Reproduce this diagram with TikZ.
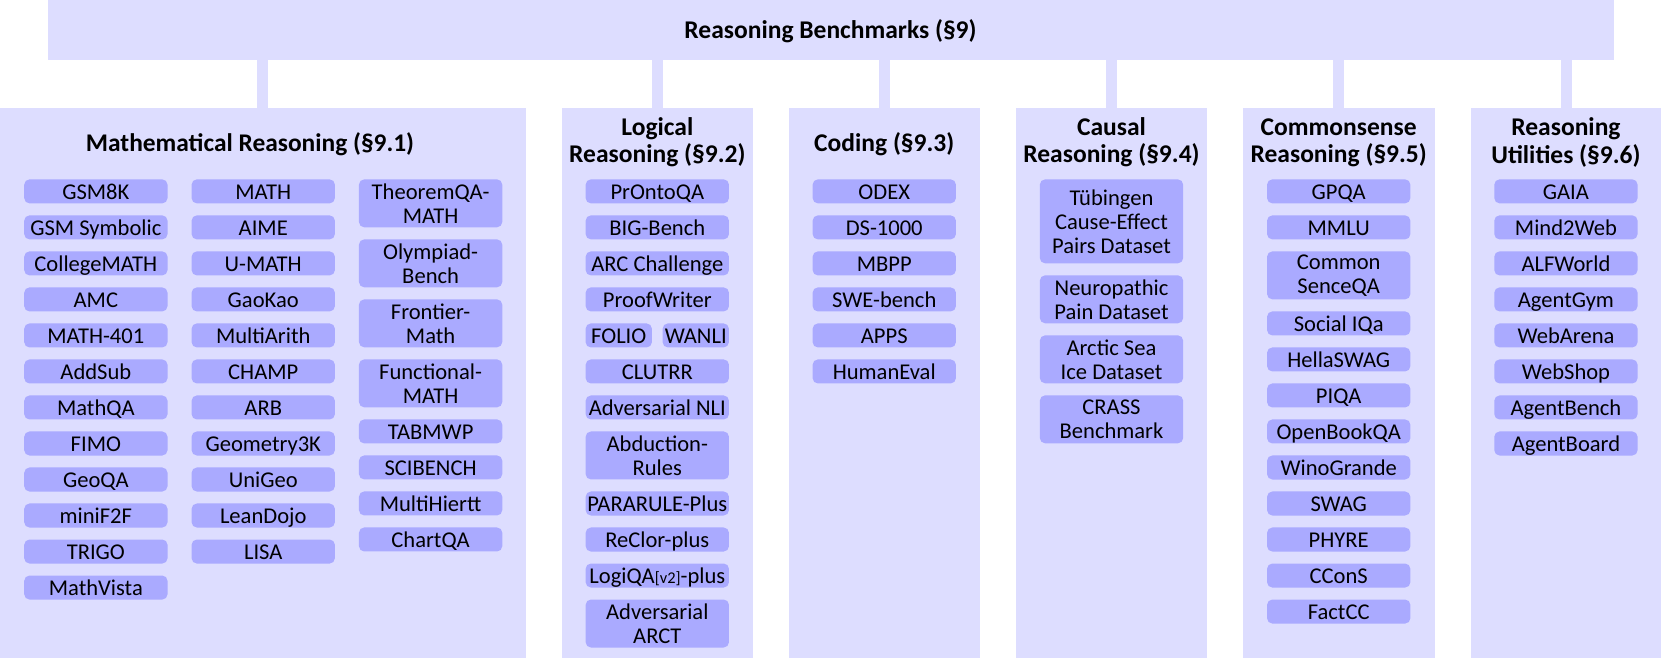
\documentclass[tikz,border=0pt]{standalone}
\usepackage{fontspec}
\setmainfont{Carlito}
\definecolor{bgcol}{RGB}{221,221,255}
\definecolor{itcol}{RGB}{170,170,255}
\newcommand\bone[4]{\node[itemone] (#1) at ({#2},{#3+11.35}) {#4};}
\newcommand\bmul[5]{\node[itemmul,minimum height=#4pt] (#1) at ({#2},{#3+#4/2}) {#5};}
\begin{document}
\begin{tikzpicture}[x=1pt,y=-1pt,
  colbox/.style={fill=bgcol,draw=none,inner sep=0pt,anchor=north west,minimum height=519pt},
  coltitle/.style={font=\bfseries\fontsize{24.1}{25.5}\selectfont,align=center,inner sep=0pt},
  stem/.style={draw=bgcol,line width=10.5pt},
  itembase/.style={fill=itcol,draw=none,rounded corners=5pt,inner sep=0pt,minimum width=135.3pt,
    font=\fontsize{21.3}{22.65}\selectfont,align=center},
  itemone/.style={itembase,minimum height=22.7pt,text height=17pt,text depth=2pt},
  itemmul/.style={itembase},
  itemhalf/.style={itemone,minimum width=62.6pt}
]
\useasboundingbox (0,0) rectangle (1568,621);
% top bar
\node[fill=bgcol,inner sep=0pt,minimum width=1478pt,minimum height=56.6pt,anchor=north west] (top) at (45,0) {};
\node[font=\bfseries\fontsize{24.1}{25.5}\selectfont,inner sep=0pt] (toptitle) at (784,29) {Reasoning Benchmarks (§9)};
% columns
\node[colbox,minimum width=496pt] (math) at (0,102) {};
\node[colbox,minimum width=181pt] (logic) at (530,102) {};
\node[colbox,minimum width=180.5pt] (code) at (744.5,102) {};
\node[colbox,minimum width=180.5pt] (causal) at (959,102) {};
\node[colbox,minimum width=180.5pt] (common) at (1173.5,102) {};
\node[colbox,minimum width=181pt] (util) at (1388,102) {};
% stems
\foreach \c in {math,logic,code,causal,common,util}
  \draw[stem] (top.south -| \c.north) -- (\c.north);
% titles
\node[coltitle,font=\bfseries\fontsize{24}{25.5}\selectfont] (tmath) at (236,136.5) {Mathematical Reasoning (§9.1)};
\node[coltitle] (tlogic) at (620.5,134.5) {Logical\\Reasoning (§9.2)};
\node[coltitle] (tcode) at (834.75,136) {Coding (§9.3)};
\node[coltitle] (tcausal) at (1049.25,134.5) {Causal\\Reasoning (§9.4)};
\node[coltitle] (tcommon) at (1263.75,134.5) {Commonsense\\Reasoning (§9.5)};
\node[coltitle] (tutil) at (1478.25,134.5) {Reasoning\\Utilities (§9.6)};
% math col 1
\bone{m1a}{90.5}{169.3}{GSM8K}
\bone{m1b}{90.5}{203.3}{GSM Symbolic}
\bone{m1c}{90.5}{237.3}{CollegeMATH}
\bone{m1d}{90.5}{271.3}{AMC}
\bone{m1e}{90.5}{305.3}{MATH-401}
\bone{m1f}{90.5}{339.3}{AddSub}
\bone{m1g}{90.5}{373.3}{MathQA}
\bone{m1h}{90.5}{407.3}{FIMO}
\bone{m1i}{90.5}{441.3}{GeoQA}
\bone{m1j}{90.5}{475.3}{miniF2F}
\bone{m1k}{90.5}{509.3}{TRIGO}
\bone{m1l}{90.5}{543.3}{MathVista}
% math col 2
\bone{m2a}{248.5}{169.3}{MATH}
\bone{m2b}{248.5}{203.3}{AIME}
\bone{m2c}{248.5}{237.3}{U-MATH}
\bone{m2d}{248.5}{271.3}{GaoKao}
\bone{m2e}{248.5}{305.3}{MultiArith}
\bone{m2f}{248.5}{339.3}{CHAMP}
\bone{m2g}{248.5}{373.3}{ARB}
\bone{m2h}{248.5}{407.3}{Geometry3K}
\bone{m2i}{248.5}{441.3}{UniGeo}
\bone{m2j}{248.5}{475.3}{LeanDojo}
\bone{m2k}{248.5}{509.3}{LISA}
% math col 3
\bmul{m3a}{406.5}{169.3}{45.3}{TheoremQA-\\MATH}
\bmul{m3b}{406.5}{225.95}{45.3}{Olympiad-\\Bench}
\bmul{m3c}{406.5}{282.6}{45.3}{Frontier-\\Math}
\bmul{m3d}{406.5}{339.25}{45.3}{Functional-\\MATH}
\bone{m3e}{406.5}{395.9}{TABMWP}
\bone{m3f}{406.5}{429.9}{SCIBENCH}
\bone{m3g}{406.5}{463.9}{MultiHiertt}
\bone{m3h}{406.5}{497.9}{ChartQA}
% logical
\bone{l1}{620.5}{169.3}{PrOntoQA}
\bone{l2}{620.5}{203.3}{BIG-Bench}
\bone{l3}{620.5}{237.3}{ARC Challenge}
\bone{l4}{620.5}{271.3}{ProofWriter}
\node[itemhalf] (l5a) at (584.1,{305.3+11.35}) {FOLIO};
\node[itemhalf] (l5b) at (656.8,{305.3+11.35}) {WANLI};
\bone{l6}{620.5}{339.3}{CLUTRR}
\bone{l7}{620.5}{373.3}{Adversarial NLI}
\bmul{l8}{620.5}{407.3}{45.3}{Abduction-\\Rules}
\bone{l9}{620.5}{463.95}{PARARULE-Plus}
\bone{l10}{620.5}{497.95}{ReClor-plus}
\bone{l11}{620.5}{531.95}{LogiQA{\fontsize{15.5}{15.5}\selectfont[v2]}-plus}
\bmul{l12}{620.5}{565.95}{45.3}{Adversarial\\ARCT}
% coding
\bone{c1}{834.75}{169.3}{ODEX}
\bone{c2}{834.75}{203.3}{DS-1000}
\bone{c3}{834.75}{237.3}{MBPP}
\bone{c4}{834.75}{271.3}{SWE-bench}
\bone{c5}{834.75}{305.3}{APPS}
\bone{c6}{834.75}{339.3}{HumanEval}
% causal
\bmul{k1}{1049.25}{169.3}{79.3}{Tübingen\\Cause-Effect\\Pairs Dataset}
\bmul{k2}{1049.25}{259.9}{45.3}{Neuropathic\\Pain Dataset}
\bmul{k3}{1049.25}{316.55}{45.3}{Arctic Sea\\Ice Dataset}
\bmul{k4}{1049.25}{373.2}{45.3}{CRASS\\Benchmark}
% commonsense
\bone{s1}{1263.75}{169.3}{GPQA}
\bone{s2}{1263.75}{203.3}{MMLU}
\bmul{s3}{1263.75}{237.3}{45.3}{Common\\SenceQA}
\bone{s4}{1263.75}{293.95}{Social IQa}
\bone{s5}{1263.75}{327.95}{HellaSWAG}
\bone{s6}{1263.75}{361.95}{PIQA}
\bone{s7}{1263.75}{395.95}{OpenBookQA}
\bone{s8}{1263.75}{429.95}{WinoGrande}
\bone{s9}{1263.75}{463.95}{SWAG}
\bone{s10}{1263.75}{497.95}{PHYRE}
\bone{s11}{1263.75}{531.95}{CConS}
\bone{s12}{1263.75}{565.95}{FactCC}
% utilities
\bone{u1}{1478.25}{169.3}{GAIA}
\bone{u2}{1478.25}{203.3}{Mind2Web}
\bone{u3}{1478.25}{237.3}{ALFWorld}
\bone{u4}{1478.25}{271.3}{AgentGym}
\bone{u5}{1478.25}{305.3}{WebArena}
\bone{u6}{1478.25}{339.3}{WebShop}
\bone{u7}{1478.25}{373.3}{AgentBench}
\bone{u8}{1478.25}{407.3}{AgentBoard}
\end{tikzpicture}
\end{document}
